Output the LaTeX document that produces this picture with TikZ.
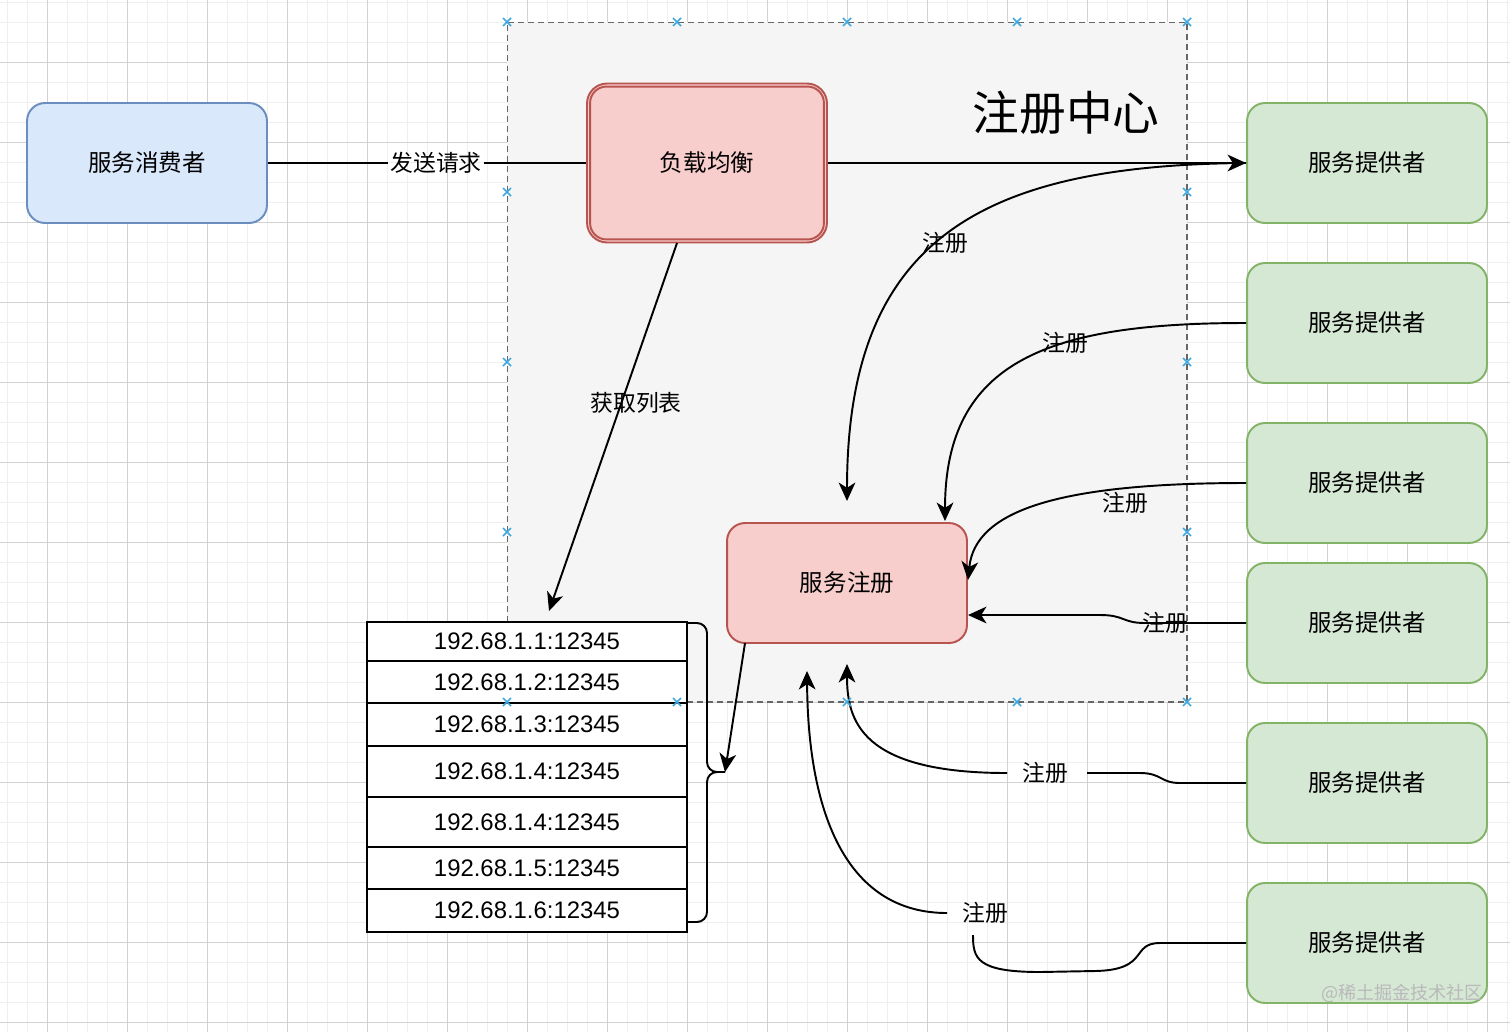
\documentclass[tikz,border=0pt]{standalone}
\usepackage{fontspec}
\setmainfont{Noto Sans CJK SC}
\newfontfamily\numfont{Liberation Sans}
\usetikzlibrary{arrows.meta,calc}
\definecolor{cfill}{HTML}{DAE8FC}
\definecolor{cdraw}{HTML}{6C8EBF}
\definecolor{pfill}{HTML}{D5E8D4}
\definecolor{pdraw}{HTML}{82B366}
\definecolor{rfill}{HTML}{F8CECC}
\definecolor{rdraw}{HTML}{B85450}
\definecolor{regfill}{HTML}{F5F5F5}
\definecolor{regdraw}{HTML}{666666}
\definecolor{minorgrid}{HTML}{EFEFEF}
\definecolor{majorgrid}{HTML}{D2D2D2}
\definecolor{handle}{HTML}{3FA9E0}
\tikzset{
  box/.style={rounded corners=0.36cm, minimum width=4.8cm, minimum height=2.4cm, line width=1.1pt, inner sep=0pt, font=\fontsize{13.4}{16}\selectfont},
  consumerbox/.style={box, fill=cfill, draw=cdraw},
  providerbox/.style={box, fill=pfill, draw=pdraw},
  redbox/.style={box, fill=rfill, draw=rdraw},
  regnode/.style={fill=regfill, draw=regdraw, dash pattern=on 3.4pt off 2.3pt, line width=0.65pt, inner sep=0pt, minimum width=13.6cm, minimum height=13.6cm},
  rowbox/.style={draw, line width=1.3pt, fill=white, minimum width=6.4cm, inner sep=0pt, font=\numfont\fontsize{13.6}{16}\selectfont},
  conn/.style={line width=1.1pt, draw=black},
  arr/.style={-{Stealth[length=10.5pt,width=9.5pt,inset=3pt]}},
  elabel/.style={font=\fontsize{13}{16}\selectfont, inner sep=1pt},
  mgrid/.style={draw=minorgrid, line width=0.5pt},
  Mgrid/.style={draw=majorgrid, line width=0.5pt},
  handlemark/.style={draw=handle, line width=0.9pt}
}
\begin{document}
\begin{tikzpicture}[x=0.02cm,y=-0.02cm]
\useasboundingbox (0,0) rectangle (1510,1032);
\fill[white] (0,0) rectangle (1510,1032);
% grid
\foreach \i in {0,...,75} \draw[mgrid] (7+20*\i,0) -- (7+20*\i,1032);
\foreach \j in {0,...,51} \draw[mgrid] (0,2+20*\j) -- (1510,2+20*\j);
\foreach \i in {0,...,18} \draw[Mgrid] (47+80*\i,0) -- (47+80*\i,1032);
\foreach \j in {0,...,12} \draw[Mgrid] (0,62+80*\j) -- (1510,62+80*\j);

% registry container
\node[regnode] (regc) at (847,362) {};
\node[font=\fontsize{26.6}{30}\selectfont, inner sep=0pt] (title) at (1066,113) {注册中心};

% nodes
\node[consumerbox] (cons) at (147,163) {服务消费者};
\node[redbox, minimum height=3.18cm, rounded corners=0.4cm] (lb) at (707,163) {负载均衡};
\draw[rdraw, line width=1.1pt, rounded corners=0.33cm] ($(lb.north west)+(4,4)$) rectangle ($(lb.south east)+(-4,-4)$);
\node[redbox] (reg) at (847,583) {服务注册};
\node[providerbox] (p1) at (1367,163) {服务提供者};
\node[providerbox] (p2) at (1367,323) {服务提供者};
\node[providerbox] (p3) at (1367,483) {服务提供者};
\node[providerbox] (p4) at (1367,623) {服务提供者};
\node[providerbox] (p5) at (1367,783) {服务提供者};
\node[providerbox] (p6) at (1367,943) {服务提供者};

% table
\node[rowbox, minimum height=0.78cm] (r1) at (527,641.5) {192.68.1.1:12345};
\node[rowbox, minimum height=0.84cm] (r2) at (527,682) {192.68.1.2:12345};
\node[rowbox, minimum height=0.86cm] (r3) at (527,724.5) {192.68.1.3:12345};
\node[rowbox, minimum height=1.02cm] (r4) at (527,771.5) {192.68.1.4:12345};
\node[rowbox, minimum height=1.00cm] (r5) at (527,822) {192.68.1.4:12345};
\node[rowbox, minimum height=0.84cm] (r6) at (527,868) {192.68.1.5:12345};
\node[rowbox, minimum height=0.86cm] (r7) at (527,910.5) {192.68.1.6:12345};

% brace
\coordinate (bt) at (725,772);
\coordinate (btop) at (688,623);
\coordinate (bbot) at (688,922);
\draw[conn, rounded corners=0.2cm] (btop) -- (707,623) -- (707,772) -- (bt);
\draw[conn, rounded corners=0.2cm] (bt) -- (707,772) -- (707,922) -- (bbot);

% labels
\node[elabel] (lsend) at (436,163) {发送请求};
\node[elabel] (lget) at (636,403) {获取列表};
\node[elabel] (l1) at (945,243) {注册};
\node[elabel] (l2) at (1065,343) {注册};
\node[elabel] (l3) at (1125,503) {注册};
\node[elabel] (l4) at (1165,623) {注册};
\node[elabel] (l5) at (1045,773) {注册};
\node[elabel] (l6) at (985,913) {注册};

% connector end points
\coordinate (lbs) at (677,243);
\coordinate (tl) at (549,611);
\coordinate (rt1) at (847,501);
\coordinate (rt2) at (945,521);
\coordinate (rr3) at (968,580);
\coordinate (rr4) at (968,615);
\coordinate (l5r) at (1087,773);
\coordinate (l5l) at (1007,773);
\coordinate (rb2) at (847,664);
\coordinate (l6b) at (973,935);
\coordinate (l6l) at (947,913);
\coordinate (rb1) at (807,671);
\coordinate (rbl) at (745,643);

% connectors
\draw[conn] (cons.east) -- (lsend.west);
\draw[conn] (lsend.east) -- (lb.west);
\draw[conn,arr] (lb.east) -- (p1.west);
\draw[conn,arr] (lbs) -- (tl);
\draw[conn,arr] (p1.west) .. controls (980,165) and (847,240) .. (rt1);
\draw[conn,arr] (p2.west) .. controls (1050,323) and (945,360) .. (rt2);
\draw[conn,arr] (p3.west) .. controls (1060,483) and (975,510) .. (rr3);
\draw[conn,arr] (p4.west) -- (1145,623) .. controls (1122,623) and (1125,615) .. (1100,615) -- (rr4);
\draw[conn] (p5.west) -- (1180,783) .. controls (1160,783) and (1162,773) .. (1140,773) -- (l5r);
\draw[conn,arr] (l5l) .. controls (860,773) and (847,720) .. (rb2);
\draw[conn] (p6.west) -- (1160,943) .. controls (1130,943) and (1150,970) .. (1095,971) -- (1040,972) .. controls (976,972) and (973,958) .. (l6b);
\draw[conn,arr] (l6l) .. controls (850,913) and (808,820) .. (rb1);
\draw[conn,arr] (rbl) -- (bt);

% selection handles
\foreach \x/\y in {507/22,677/22,847/22,1017/22,1187/22,507/192,507/362,507/532,507/702,1187/192,1187/362,1187/532,1187/702,677/702,847/702,1017/702}
  \draw[handlemark] (\x-4,\y-4) -- (\x+4,\y+4) (\x-4,\y+4) -- (\x+4,\y-4);

% watermark
\node[text=gray!55, font=\fontsize{10.3}{12}\selectfont, inner sep=0pt] (wm) at (1402,993) {@稀土掘金技术社区};
\end{tikzpicture}
\end{document}
